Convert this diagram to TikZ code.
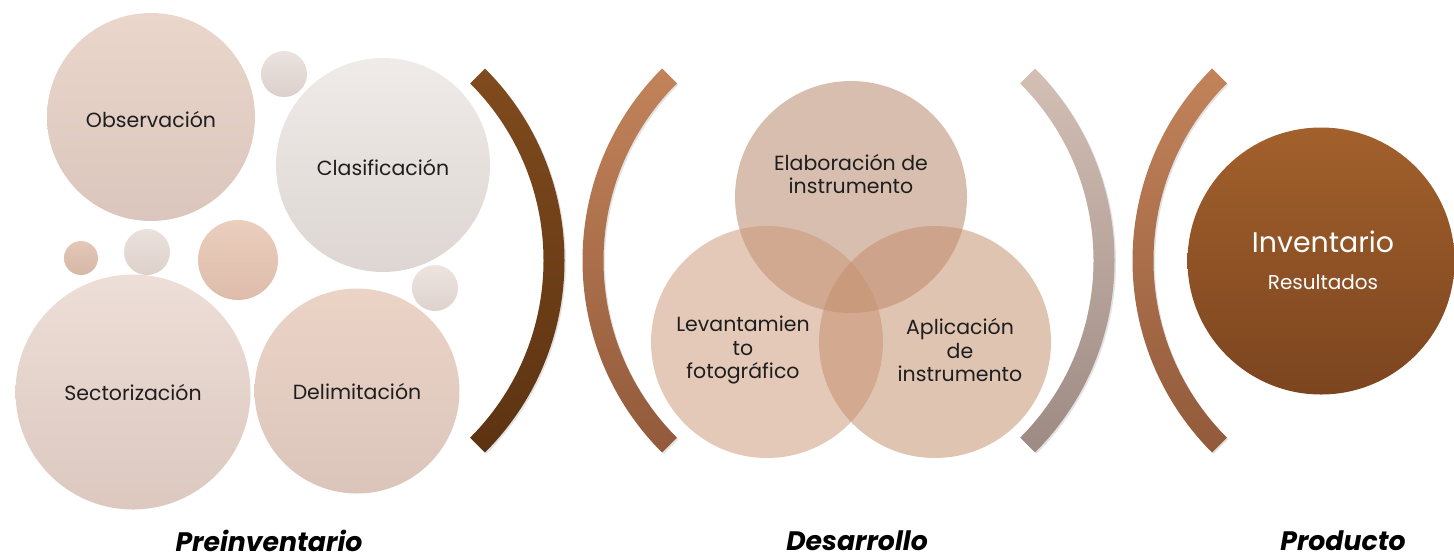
\documentclass[tikz,border=0pt]{standalone}
\usepackage{fontspec}
\setmainfont{Poppins}
\usetikzlibrary{calc,shadows}
\definecolor{txt}{HTML}{1E1E1E}
\tikzset{
  bub/.style={circle, inner sep=0pt, draw=none},
  lbl/.style={font=\fontsize{20.5}{23.3}\selectfont, text=txt, align=center, inner sep=0pt},
  ttl/.style={font=\fontsize{26.7}{30}\selectfont\bfseries\itshape, text=black, inner sep=0pt},
  venn/.style={circle, inner sep=0pt, minimum size=232pt, fill opacity=0.52, draw=none},
  arcsh/.style={drop shadow={opacity=0.22, shadow xshift=1.5pt, shadow yshift=-1.5pt}}
}
\begin{document}
\begin{tikzpicture}[x=1pt,y=-1pt]
\useasboundingbox (0,0) rectangle (1454,558);
% ---------- Preinventario bubbles ----------
\node[bub, minimum size=208pt, top color={rgb,255:red,234;green,214;blue,203}, bottom color={rgb,255:red,219;green,198;blue,189}] (obs) at (151,117) {};
\node[bub, minimum size=46pt, top color={rgb,255:red,234;green,227;blue,224}, bottom color={rgb,255:red,220;green,207;blue,203}] (s1) at (284,74) {};
\node[bub, minimum size=214pt, top color={rgb,255:red,239;green,235;blue,232}, bottom color={rgb,255:red,221;green,214;blue,210}] (clas) at (383,165) {};
\node[bub, minimum size=34pt, top color={rgb,255:red,227;green,199;blue,183}, bottom color={rgb,255:red,215;green,183;blue,166}] (s2) at (81,258) {};
\node[bub, minimum size=46pt, top color={rgb,255:red,235;green,226;blue,221}, bottom color={rgb,255:red,221;green,208;blue,202}] (s3) at (147,252) {};
\node[bub, minimum size=80pt, top color={rgb,255:red,235;green,206;blue,190}, bottom color={rgb,255:red,221;green,188;blue,170}] (s4) at (238,260) {};
\node[bub, minimum size=46pt, top color={rgb,255:red,237;green,228;blue,224}, bottom color={rgb,255:red,221;green,210;blue,206}] (s5) at (435,288) {};
\node[bub, minimum size=235pt, top color={rgb,255:red,237;green,222;blue,215}, bottom color={rgb,255:red,220;green,200;blue,191}] (sect) at (133,392) {};
\node[bub, minimum size=205pt, top color={rgb,255:red,235;green,211;blue,198}, bottom color={rgb,255:red,219;green,197;blue,187}] (delim) at (357,391) {};
\node[lbl] (tobs) at (151,119) {Observación};
\node[lbl] (tclas) at (383,167) {Clasificación};
\node[lbl] (tsect) at (133,392) {Sectorización};
\node[lbl] (tdelim) at (357,391) {Delimitación};
% ---------- Arcs ----------
\coordinate (c1) at (293,260.5);
\coordinate (c2) at (854,260.5);
\coordinate (c3) at (843,260.5);
\coordinate (c4) at (1404,260.5);
\shade[arcsh, top color={rgb,255:red,128;green,75;blue,29}, bottom color={rgb,255:red,92;green,51;blue,18}]
  (c1) ++(-45:271.5) arc[start angle=-45,end angle=45,radius=271.5] -- ($(c1)+(45:250.5)$) arc[start angle=45,end angle=-45,radius=250.5] -- cycle;
\shade[arcsh, top color={rgb,255:red,194;green,131;blue,90}, bottom color={rgb,255:red,146;green,90;blue,59}]
  (c2) ++(135:271.5) arc[start angle=135,end angle=225,radius=271.5] -- ($(c2)+(225:250.5)$) arc[start angle=225,end angle=135,radius=250.5] -- cycle;
\shade[arcsh, top color={rgb,255:red,211;green,191;blue,180}, bottom color={rgb,255:red,157;green,138;blue,131}]
  (c3) ++(-45:271.5) arc[start angle=-45,end angle=45,radius=271.5] -- ($(c3)+(45:250.5)$) arc[start angle=45,end angle=-45,radius=250.5] -- cycle;
\shade[arcsh, top color={rgb,255:red,194;green,131;blue,90}, bottom color={rgb,255:red,146;green,90;blue,59}]
  (c4) ++(135:271.5) arc[start angle=135,end angle=225,radius=271.5] -- ($(c4)+(225:250.5)$) arc[start angle=225,end angle=135,radius=250.5] -- cycle;
% ---------- Venn ----------
\node[venn, fill={rgb,255:red,179;green,131;blue,100}] (elab) at (851,197) {};
\node[venn, fill={rgb,255:red,203;green,151;blue,119}] (lev) at (767,342) {};
\node[venn, fill={rgb,255:red,196;green,141;blue,108}] (apl) at (935,342) {};
\node[lbl] (telab) at (851,174) {Elaboración de\\instrumento};
\node[lbl] (tlev) at (743,350) {Levantamien\\to\\fotográfico};
\node[lbl] (tapl) at (960,350) {Aplicación\\de\\instrumento};
% ---------- Producto ----------
\node[bub, minimum size=267pt, top color={rgb,255:red,162;green,96;blue,44}, bottom color={rgb,255:red,124;green,69;blue,31}] (inv) at (1321,261) {};
\node[font=\fontsize{28.4}{32}\selectfont, text=white, inner sep=0pt] (tinv) at (1323,242) {Inventario};
\node[font=\fontsize{20}{24}\selectfont, text=white, inner sep=0pt] (tres) at (1323,282) {Resultados};
% ---------- Titles ----------
\node[ttl] (t1) at (269,541) {Preinventario};
\node[ttl] (t2) at (857,541) {Desarrollo};
\node[ttl] (t3) at (1343,541) {Producto};
\end{tikzpicture}
\end{document}
